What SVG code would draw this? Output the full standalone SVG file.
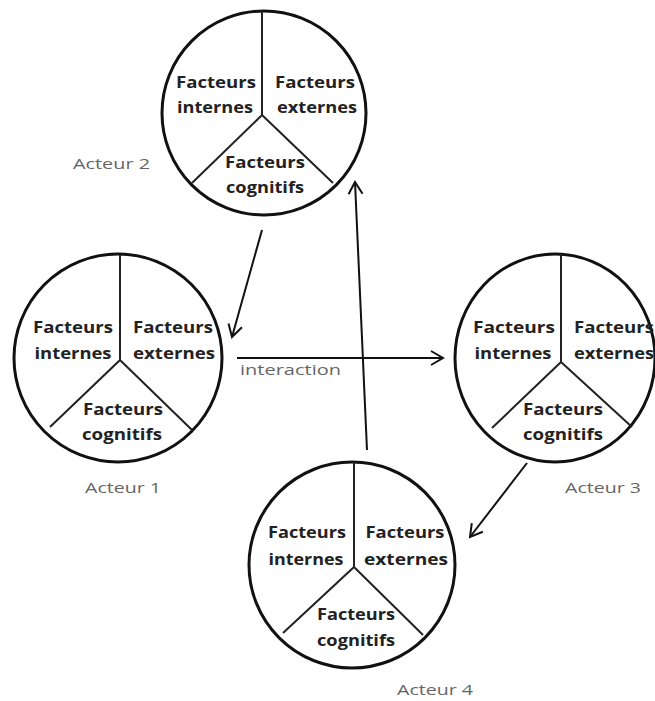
<svg xmlns="http://www.w3.org/2000/svg" width="655" height="701" viewBox="0 0 655 701">
<defs>
<marker id="ah" markerUnits="userSpaceOnUse" markerWidth="16" markerHeight="16" refX="13" refY="8" orient="auto">
<path d="M1,1 L13,8 L1,15" fill="none" stroke="#111" stroke-width="2"/>
</marker>
<style>
.c{fill:#fff;stroke:#111;stroke-width:3}
.d{stroke:#222;stroke-width:2;fill:none}
.f{font-family:"Open Sans","Liberation Sans",sans-serif;font-weight:bold;font-size:16px;fill:#222;text-anchor:middle}
.l{font-family:"Open Sans","Liberation Sans",sans-serif;font-size:15px;fill:#666}
.a{stroke:#111;stroke-width:2;fill:none;marker-end:url(#ah)}
</style>
</defs>
<rect width="655" height="701" fill="#fff"/>
<g id="acteur2">
<circle class="c" cx="264" cy="113" r="102"/>
<path class="d" d="M262,11 V115 L192,183 M262,115 L333,183"/>
<text class="f" x="216" y="88" textLength="80" lengthAdjust="spacingAndGlyphs">Facteurs</text>
<text class="f" x="215" y="113" textLength="76" lengthAdjust="spacingAndGlyphs">internes</text>
<text class="f" x="315" y="88" textLength="80" lengthAdjust="spacingAndGlyphs">Facteurs</text>
<text class="f" x="317" y="113" textLength="80" lengthAdjust="spacingAndGlyphs">externes</text>
<text class="f" x="265" y="168" textLength="80" lengthAdjust="spacingAndGlyphs">Facteurs</text>
<text class="f" x="265" y="193" textLength="78" lengthAdjust="spacingAndGlyphs">cognitifs</text>
<text class="l" x="73" y="169" textLength="77" lengthAdjust="spacingAndGlyphs">Acteur 2</text>
</g>
<g id="acteur1">
<circle class="c" cx="118" cy="358" r="104"/>
<path class="d" d="M120,255 V360 L50,427 M120,360 L192,430"/>
<text class="f" x="73" y="333" textLength="80" lengthAdjust="spacingAndGlyphs">Facteurs</text>
<text class="f" x="73" y="359" textLength="77" lengthAdjust="spacingAndGlyphs">internes</text>
<text class="f" x="173" y="333" textLength="80" lengthAdjust="spacingAndGlyphs">Facteurs</text>
<text class="f" x="174" y="359" textLength="82" lengthAdjust="spacingAndGlyphs">externes</text>
<text class="f" x="123" y="415" textLength="80" lengthAdjust="spacingAndGlyphs">Facteurs</text>
<text class="f" x="122" y="440" textLength="80" lengthAdjust="spacingAndGlyphs">cognitifs</text>
<text class="l" x="85" y="493" textLength="76" lengthAdjust="spacingAndGlyphs">Acteur 1</text>
</g>
<g id="acteur3">
<ellipse class="c" cx="555" cy="358" rx="100" ry="104"/>
<path class="d" d="M561,254 V362 L492,428 M561,362 L632,427"/>
<text class="f" x="514" y="333" textLength="82" lengthAdjust="spacingAndGlyphs">Facteurs</text>
<text class="f" x="513" y="359" textLength="77" lengthAdjust="spacingAndGlyphs">internes</text>
<text class="f" x="614" y="333" textLength="80" lengthAdjust="spacingAndGlyphs">Facteurs</text>
<text class="f" x="614" y="359" textLength="80" lengthAdjust="spacingAndGlyphs">externes</text>
<text class="f" x="563" y="415" textLength="80" lengthAdjust="spacingAndGlyphs">Facteurs</text>
<text class="f" x="563" y="440" textLength="80" lengthAdjust="spacingAndGlyphs">cognitifs</text>
<text class="l" x="565" y="493" textLength="76" lengthAdjust="spacingAndGlyphs">Acteur 3</text>
</g>
<g id="acteur4">
<circle class="c" cx="352" cy="565" r="103"/>
<path class="d" d="M354,462 V567 L283,633 M354,567 L423,635"/>
<text class="f" x="307" y="538" textLength="78" lengthAdjust="spacingAndGlyphs">Facteurs</text>
<text class="f" x="306" y="565" textLength="75" lengthAdjust="spacingAndGlyphs">internes</text>
<text class="f" x="405" y="538" textLength="79" lengthAdjust="spacingAndGlyphs">Facteurs</text>
<text class="f" x="406" y="565" textLength="84" lengthAdjust="spacingAndGlyphs">externes</text>
<text class="f" x="356" y="620" textLength="78" lengthAdjust="spacingAndGlyphs">Facteurs</text>
<text class="f" x="356" y="646" textLength="78" lengthAdjust="spacingAndGlyphs">cognitifs</text>
<text class="l" x="397" y="695" textLength="76" lengthAdjust="spacingAndGlyphs">Acteur 4</text>
</g>
<g id="connectors">
<line class="a" x1="262" y1="230" x2="232" y2="337"/>
<line class="a" x1="237" y1="358" x2="443" y2="358"/>
<line class="a" x1="527" y1="463" x2="470" y2="537"/>
<line class="a" x1="367" y1="450" x2="355" y2="182"/>
<text class="l" x="240" y="375" textLength="101" lengthAdjust="spacingAndGlyphs">interaction</text>
</g>
</svg>
